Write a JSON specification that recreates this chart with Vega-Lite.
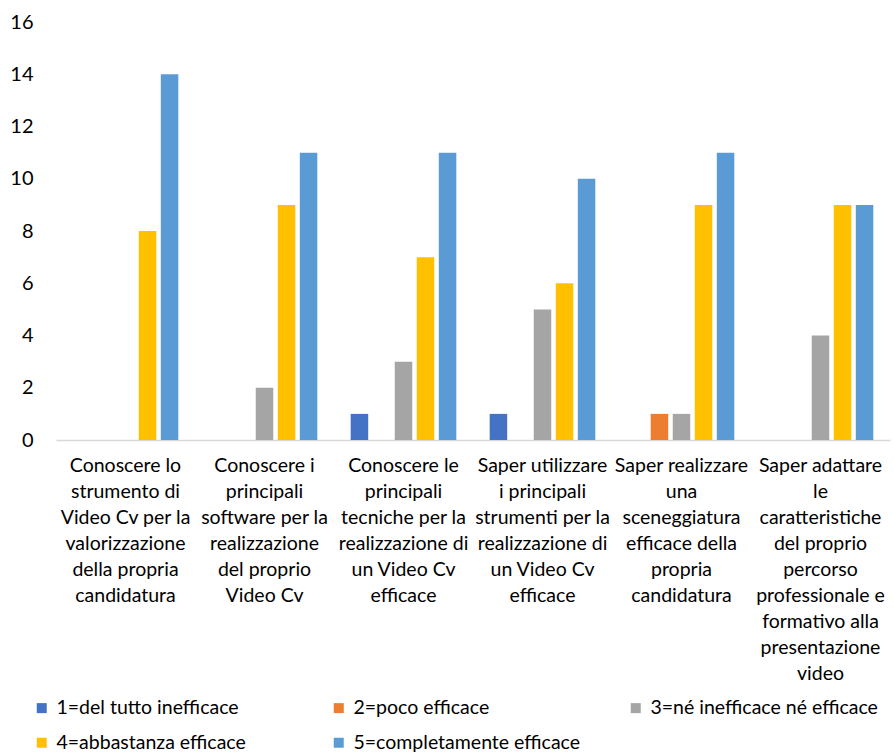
{
  "$schema": "https://vega.github.io/schema/vega-lite/v6.json",
  "width": 834,
  "height": 418,
  "autosize": {"type": "none"},
  "padding": {"left": 56, "top": 22, "right": 4, "bottom": 313},
  "background": "white",
  "config": {
    "font": "Lato",
    "view": {"stroke": null}
  },
  "data": {
    "values": [
      {"c": 1, "cat": "Conoscere lo|strumento di|Video Cv per la|valorizzazione|della propria|candidatura", "s": "1=del tutto inefficace", "v": 0},
      {"c": 1, "cat": "Conoscere lo|strumento di|Video Cv per la|valorizzazione|della propria|candidatura", "s": "2=poco efficace", "v": 0},
      {"c": 1, "cat": "Conoscere lo|strumento di|Video Cv per la|valorizzazione|della propria|candidatura", "s": "3=né inefficace né efficace", "v": 0},
      {"c": 1, "cat": "Conoscere lo|strumento di|Video Cv per la|valorizzazione|della propria|candidatura", "s": "4=abbastanza efficace", "v": 8},
      {"c": 1, "cat": "Conoscere lo|strumento di|Video Cv per la|valorizzazione|della propria|candidatura", "s": "5=completamente efficace", "v": 14},
      {"c": 2, "cat": "Conoscere i|principali|software per la|realizzazione|del proprio|Video Cv", "s": "1=del tutto inefficace", "v": 0},
      {"c": 2, "cat": "Conoscere i|principali|software per la|realizzazione|del proprio|Video Cv", "s": "2=poco efficace", "v": 0},
      {"c": 2, "cat": "Conoscere i|principali|software per la|realizzazione|del proprio|Video Cv", "s": "3=né inefficace né efficace", "v": 2},
      {"c": 2, "cat": "Conoscere i|principali|software per la|realizzazione|del proprio|Video Cv", "s": "4=abbastanza efficace", "v": 9},
      {"c": 2, "cat": "Conoscere i|principali|software per la|realizzazione|del proprio|Video Cv", "s": "5=completamente efficace", "v": 11},
      {"c": 3, "cat": "Conoscere le|principali|tecniche per la|realizzazione di|un Video Cv|efficace", "s": "1=del tutto inefficace", "v": 1},
      {"c": 3, "cat": "Conoscere le|principali|tecniche per la|realizzazione di|un Video Cv|efficace", "s": "2=poco efficace", "v": 0},
      {"c": 3, "cat": "Conoscere le|principali|tecniche per la|realizzazione di|un Video Cv|efficace", "s": "3=né inefficace né efficace", "v": 3},
      {"c": 3, "cat": "Conoscere le|principali|tecniche per la|realizzazione di|un Video Cv|efficace", "s": "4=abbastanza efficace", "v": 7},
      {"c": 3, "cat": "Conoscere le|principali|tecniche per la|realizzazione di|un Video Cv|efficace", "s": "5=completamente efficace", "v": 11},
      {"c": 4, "cat": "Saper utilizzare|i principali|strumenti per la|realizzazione di|un Video Cv|efficace", "s": "1=del tutto inefficace", "v": 1},
      {"c": 4, "cat": "Saper utilizzare|i principali|strumenti per la|realizzazione di|un Video Cv|efficace", "s": "2=poco efficace", "v": 0},
      {"c": 4, "cat": "Saper utilizzare|i principali|strumenti per la|realizzazione di|un Video Cv|efficace", "s": "3=né inefficace né efficace", "v": 5},
      {"c": 4, "cat": "Saper utilizzare|i principali|strumenti per la|realizzazione di|un Video Cv|efficace", "s": "4=abbastanza efficace", "v": 6},
      {"c": 4, "cat": "Saper utilizzare|i principali|strumenti per la|realizzazione di|un Video Cv|efficace", "s": "5=completamente efficace", "v": 10},
      {"c": 5, "cat": "Saper realizzare|una|sceneggiatura|efficace della|propria|candidatura", "s": "1=del tutto inefficace", "v": 0},
      {"c": 5, "cat": "Saper realizzare|una|sceneggiatura|efficace della|propria|candidatura", "s": "2=poco efficace", "v": 1},
      {"c": 5, "cat": "Saper realizzare|una|sceneggiatura|efficace della|propria|candidatura", "s": "3=né inefficace né efficace", "v": 1},
      {"c": 5, "cat": "Saper realizzare|una|sceneggiatura|efficace della|propria|candidatura", "s": "4=abbastanza efficace", "v": 9},
      {"c": 5, "cat": "Saper realizzare|una|sceneggiatura|efficace della|propria|candidatura", "s": "5=completamente efficace", "v": 11},
      {"c": 6, "cat": "Saper adattare|le|caratteristiche|del proprio|percorso|professionale e|formativo alla|presentazione|video", "s": "1=del tutto inefficace", "v": 0},
      {"c": 6, "cat": "Saper adattare|le|caratteristiche|del proprio|percorso|professionale e|formativo alla|presentazione|video", "s": "2=poco efficace", "v": 0},
      {"c": 6, "cat": "Saper adattare|le|caratteristiche|del proprio|percorso|professionale e|formativo alla|presentazione|video", "s": "3=né inefficace né efficace", "v": 4},
      {"c": 6, "cat": "Saper adattare|le|caratteristiche|del proprio|percorso|professionale e|formativo alla|presentazione|video", "s": "4=abbastanza efficace", "v": 9},
      {"c": 6, "cat": "Saper adattare|le|caratteristiche|del proprio|percorso|professionale e|formativo alla|presentazione|video", "s": "5=completamente efficace", "v": 9}
    ]
  },
  "mark": {"type": "bar"},
  "encoding": {
    "x": {
      "field": "cat",
      "type": "nominal",
      "sort": {"field": "c"},
      "scale": {"paddingInner": 0.24, "paddingOuter": 0.12},
      "axis": {
        "title": null,
        "labelAngle": 0,
        "labelExpr": "split(datum.label, '|')",
        "labelFont": "Lato",
        "labelFontSize": 19.5,
        "labelColor": "#000000",
        "labelLineHeight": 26,
        "labelPadding": 16,
        "labelLimit": 0,
        "labelBaseline": "top",
        "ticks": false,
        "domainColor": "#D9D9D9",
        "domainWidth": 1.5,
        "grid": false
      }
    },
    "xOffset": {
      "field": "s",
      "type": "nominal",
      "scale": {"paddingInner": 0.205, "paddingOuter": 0}
    },
    "y": {
      "field": "v",
      "type": "quantitative",
      "scale": {"domain": [0, 16], "nice": false},
      "axis": {
        "title": null,
        "values": [0, 2, 4, 6, 8, 10, 12, 14, 16],
        "labelFont": "Lato",
        "labelFontSize": 20,
        "labelColor": "#000000",
        "labelPadding": 23,
        "ticks": false,
        "domain": false,
        "grid": false
      }
    },
    "color": {
      "field": "s",
      "type": "nominal",
      "scale": {
        "domain": ["1=del tutto inefficace", "2=poco efficace", "3=né inefficace né efficace", "4=abbastanza efficace", "5=completamente efficace"],
        "range": ["#4472C4", "#ED7D31", "#A5A5A5", "#FFC000", "#5B9BD5"]
      },
      "legend": {
        "title": null,
        "orient": "none",
        "legendX": -24,
        "legendY": 676,
        "direction": "horizontal",
        "columns": 3,
        "gridAlign": "all",
        "columnPadding": 45,
        "rowPadding": 14,
        "padding": 0,
        "symbolType": "square",
        "symbolSize": 100,
        "symbolStrokeWidth": 0,
        "symbolOffset": 0,
        "labelOffset": 5,
        "labelFont": "Lato",
        "labelFontSize": 19.5,
        "labelColor": "#000000",
        "labelLimit": 0
      }
    }
  }
}
